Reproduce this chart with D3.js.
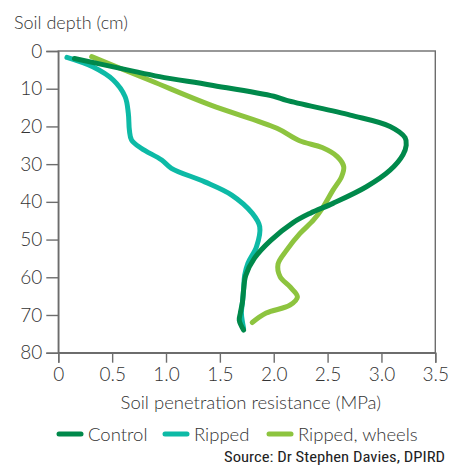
<!DOCTYPE html>
<html>
<head>
<meta charset="utf-8">
<script src="https://cdn.jsdelivr.net/npm/d3@7"></script>
<style>
  html, body { margin: 0; padding: 0; background: #fff; }
  svg { display: block; }
  text { font-family: Lato, "Open Sans", sans-serif; fill: #333; }
</style>
</head>
<body>
<svg id="chart" width="461" height="465"></svg>
<script>
// ---- data (resistance MPa, depth cm) ----
const seriesNames = ["Control", "Ripped", "Ripped, wheels"];
const controlRes   = [0.15, 0.64, 0.94, 1.41, 2.00, 2.12, 2.71, 3.08, 3.22, 3.23, 3.20, 3.08, 2.86, 2.55, 2.34, 2.18, 1.97, 1.82, 1.74, 1.72, 1.71, 1.69, 1.68, 1.72];
const controlDepth = [2.0, 5.0, 6.8, 9.0, 12.0, 13.1, 17.0, 20.0, 23.0, 25.0, 27.5, 31.6, 36.0, 40.4, 43.0, 45.5, 50.3, 55.0, 59.5, 63.4, 66.5, 69.5, 71.4, 74.0];
const rippedRes    = [0.08, 0.32, 0.51, 0.62, 0.65, 0.66, 0.68, 0.77, 0.96, 1.05, 1.36, 1.61, 1.80, 1.87, 1.84, 1.76, 1.73, 1.72, 1.71, 1.70, 1.72];
const rippedDepth  = [1.7, 4.2, 7.7, 12.1, 16.5, 21.0, 23.6, 25.8, 28.9, 31.1, 34.7, 38.2, 43.0, 46.6, 51.9, 56.3, 59.5, 63.4, 66.5, 69.5, 73.5];
const wheelsRes    = [0.31, 0.86, 1.41, 2.03, 2.24, 2.45, 2.59, 2.65, 2.63, 2.55, 2.46, 2.37, 2.24, 2.12, 2.04, 2.06, 2.15, 2.22, 2.15, 1.93, 1.80];
const wheelsDepth  = [1.5, 7.9, 14.3, 20.5, 23.8, 25.6, 28.0, 30.7, 33.3, 36.9, 41.3, 44.8, 48.5, 52.8, 56.5, 59.9, 62.5, 65.2, 67.4, 69.5, 72.0];
const xTicks = [0, 0.5, 1.0, 1.5, 2.0, 2.5, 3.0, 3.5];
const xTickLabels = ["0", "0.5", "1.0", "1.5", "2.0", "2.5", "3.0", "3.5"];
const yTicks = [0, 10, 20, 30, 40, 50, 60, 70, 80];
const colors = ["#00894b", "#0dbaa6", "#8dc43f"];

const svg = d3.select("#chart");
const m = { left: 58.3, right: 435.3, top: 51, bottom: 352.7 };
const x = d3.scaleLinear().domain([0, 3.5]).range([m.left, m.right]);
const y = d3.scaleLinear().domain([0, 80]).range([m.top, m.bottom]);

// frame
svg.append("rect")
  .attr("x", m.left).attr("y", m.top)
  .attr("width", m.right - m.left).attr("height", m.bottom - m.top)
  .attr("fill", "none").attr("stroke", "#6d6d6d").attr("stroke-width", 1.4);

// y axis
const yAxis = svg.append("g").attr("transform", `translate(${m.left},0)`)
  .call(d3.axisLeft(y).tickValues(yTicks).tickSize(12).tickPadding(4).tickFormat(d3.format("d")));
// x axis
const xAxis = svg.append("g").attr("transform", `translate(0,${m.bottom})`)
  .call(d3.axisBottom(x).tickValues(xTicks).tickSize(10).tickPadding(5)
    .tickFormat((d, i) => xTickLabels[i]));
[yAxis, xAxis].forEach(g => {
  g.select(".domain").attr("stroke", "#6d6d6d").attr("stroke-width", 1.4);
  g.selectAll(".tick line").attr("stroke", "#6d6d6d").attr("stroke-width", 1.4);
  g.selectAll(".tick text").attr("fill", "#333").style("font-family", "Lato, 'Open Sans', sans-serif")
    .style("font-size", "19px").style("font-weight", 300);
});

// lines
const series = [
  { name: seriesNames[2], res: wheelsRes, depth: wheelsDepth, color: colors[2] },
  { name: seriesNames[1], res: rippedRes, depth: rippedDepth, color: colors[1] },
  { name: seriesNames[0], res: controlRes, depth: controlDepth, color: colors[0] }
];
const line = d3.line().x(d => x(d[0])).y(d => y(d[1])).curve(d3.curveCatmullRom.alpha(0.5));
series.forEach(s => {
  svg.append("path")
    .datum(s.res.map((r, i) => [r, s.depth[i]]))
    .attr("d", line)
    .attr("fill", "none").attr("stroke", s.color)
    .attr("stroke-width", 5).attr("stroke-linecap", "round").attr("stroke-linejoin", "round");
});

// titles
svg.append("text").attr("x", 14).attr("y", 29).text("Soil depth (cm)")
  .style("font-size", "18px").style("font-weight", 300);
svg.append("text").attr("x", (m.left + m.right) / 2 + 4).attr("y", 409).attr("text-anchor", "middle")
  .text("Soil penetration resistance (MPa)").style("font-size", "18.5px").style("font-weight", 300);

// legend
const legendX = [57, 163, 267];
seriesNames.forEach((n, i) => {
  const g = svg.append("g").attr("transform", `translate(${legendX[i]},434)`);
  g.append("line").attr("x1", 2).attr("x2", 24).attr("y1", 0).attr("y2", 0)
    .attr("stroke", colors[i]).attr("stroke-width", 5).attr("stroke-linecap", "round");
  g.append("text").attr("x", 31).attr("y", 6.5).text(n)
    .style("font-size", "18.5px").style("font-weight", 300);
});

// source
svg.append("text").attr("x", 445).attr("y", 462).attr("text-anchor", "end")
  .text("Source: Dr Stephen Davies, DPIRD")
  .attr("textLength", 221).attr("lengthAdjust", "spacingAndGlyphs")
  .style("font-family", "'Liberation Sans Narrow', 'Roboto Condensed', sans-serif")
  .style("font-size", "15px").style("fill", "#222");
</script>
</body>
</html>
